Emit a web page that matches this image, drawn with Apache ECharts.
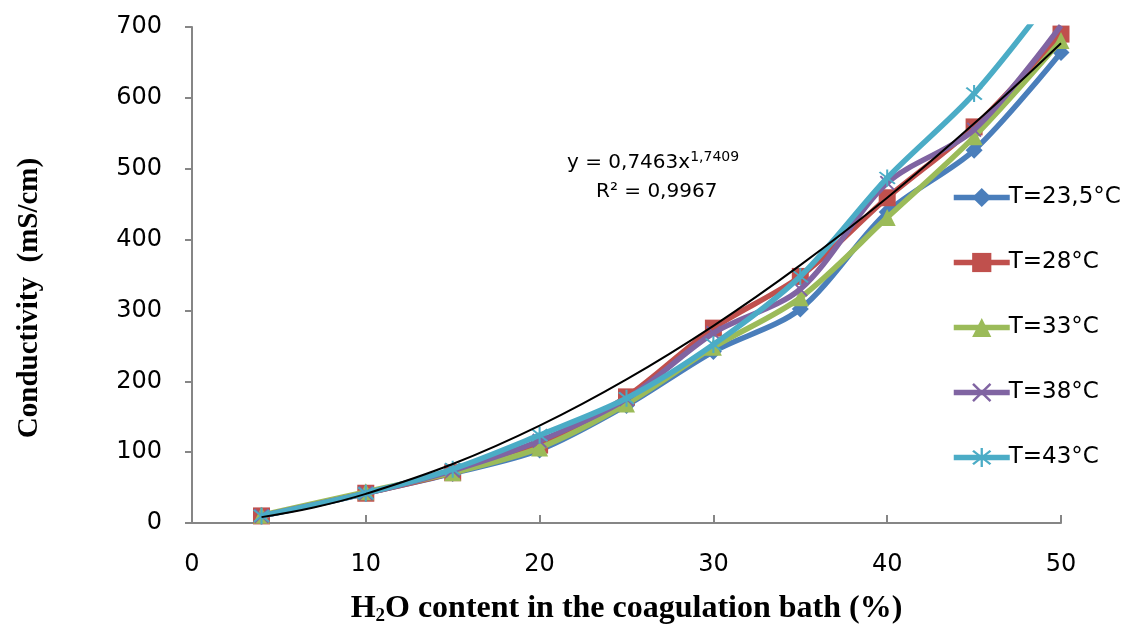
<!DOCTYPE html>
<html>
<head>
<meta charset="utf-8">
<script src="https://cdn.jsdelivr.net/npm/echarts@6/dist/echarts.min.js"></script>
<style>html,body{margin:0;padding:0;background:#fff}#c{width:1123px;height:628px}</style>
</head>
<body>
<div id="c"></div>
<script>
const xValues = [4, 10, 15, 20, 25, 30, 35, 40, 45, 50];
const seriesNames = ['T=23,5°C', 'T=28°C', 'T=33°C', 'T=38°C', 'T=43°C'];
const t235 = [10, 42, 70, 103, 166, 242, 302, 439, 526, 664];
const t28  = [10, 42, 71, 110, 178, 275, 348, 459, 559, 690];
const t33  = [11, 44, 71, 106, 168, 248, 318, 431, 545, 681];
const t38  = [10, 42, 74, 116, 175, 268, 330, 480, 555, 702];
const t43  = [10, 42, 76, 124, 176, 252, 348, 487, 606, 760];
const trendX = [4, 7, 10, 15, 20, 25, 30, 35, 40, 45, 50];
const trendY = [8.3, 21.9, 41.1, 83.2, 137.4, 202.7, 278.3, 363.9, 459.1, 563.7, 677.1];
const xTicks = [0, 10, 20, 30, 40, 50];
const yTicks = [0, 100, 200, 300, 400, 500, 600, 700];

const colors = ['#4A7EBB', '#C0504D', '#9BBB59', '#8064A2', '#4BACC6'];
const symbols = [
  'diamond',
  'rect',
  'triangle',
  'path://M0,0.9 L0.9,0 L5,4.1 L9.1,0 L10,0.9 L5.9,5 L10,9.1 L9.1,10 L5,5.9 L0.9,10 L0,9.1 L4.1,5 Z',
  'path://M0,0.9 L0.9,0 L5,4.1 L9.1,0 L10,0.9 L5.9,5 L10,9.1 L9.1,10 L5,5.9 L0.9,10 L0,9.1 L4.1,5 Z M4.4,-1.5 L5.6,-1.5 L5.6,11.5 L4.4,11.5 Z'
];
const symbolSizes = [17, 17, 17, 15, 17];
const allData = [t235, t28, t33, t38, t43];

const series = allData.map((vals, i) => ({
  name: seriesNames[i],
  type: 'line',
  data: xValues.map((x, k) => [x, vals[k]]),
  smooth: 0.3,
  symbol: symbols[i],
  symbolSize: symbolSizes[i],
  showAllSymbol: true,
  clip: true,
  lineStyle: { color: colors[i], width: 5.5 },
  itemStyle: { color: colors[i] },
  emphasis: { disabled: true },
  z: 2 + i
}));
series.push({
  name: 'trend',
  type: 'line',
  data: trendX.map((x, k) => [x, trendY[k]]),
  smooth: 0.4,
  symbol: 'none',
  lineStyle: { color: '#000', width: 2 },
  emphasis: { disabled: true },
  z: 10
});

const chart = echarts.init(document.getElementById('c'), null, { renderer: 'canvas' });
chart.setOption({
  animation: false,
  backgroundColor: '#fff',
  grid: { left: 192, right: 62, top: 27, bottom: 105, containLabel: false, outerBoundsMode: 'none' },
  xAxis: {
    type: 'value', min: 0, max: 50, interval: 10,
    name: '{b|H}{sub|2}{b|O content in the coagulation bath (%)}',
    nameLocation: 'middle', nameGap: 68,
    nameTextStyle: {
      rich: {
        b: { fontFamily: 'Liberation Serif', fontWeight: 'bold', fontSize: 32, color: '#000' },
        sub: { fontFamily: 'Liberation Serif', fontWeight: 'bold', fontSize: 19, color: '#000', padding: [16, 0, 0, 0] }
      }
    },
    splitLine: { show: false },
    axisLine: { lineStyle: { color: '#868686', width: 2 } },
    axisTick: { inside: true, length: 8, lineStyle: { color: '#868686', width: 2 } },
    axisLabel: { margin: 30, fontFamily: 'DejaVu Sans', fontSize: 24, color: '#000' }
  },
  yAxis: {
    type: 'value', min: 0, max: 700, interval: 100,
    name: 'Conductivity  (mS/cm)',
    nameLocation: 'middle', nameGap: 148,
    nameTextStyle: { fontFamily: 'Liberation Serif', fontWeight: 'bold', fontSize: 29, color: '#000', padding: [0, 46, 0, 0] },
    splitLine: { show: false },
    axisLine: { show: true, lineStyle: { color: '#868686', width: 2 } },
    axisTick: { show: true, length: 7, lineStyle: { color: '#868686', width: 2 } },
    axisLabel: { margin: 30, fontFamily: 'DejaVu Sans', fontSize: 24, color: '#000' }
  },
  legend: {
    data: seriesNames,
    orient: 'vertical',
    left: 946, top: 181,
    itemWidth: 56, itemHeight: 24, itemGap: 42,
    lineStyle: { width: 5.5 },
    textStyle: { fontFamily: 'DejaVu Sans', fontSize: 23, color: '#000', padding: [0, 0, 0, -6] }
  },
  graphic: [
    {
      type: 'text', left: 567, top: 150,
      style: {
        text: '{a|y = 0,7463x}{s|1,7409}',
        rich: {
          a: { fontFamily: 'DejaVu Sans', fontSize: 20, fill: '#000' },
          s: { fontFamily: 'DejaVu Sans', fontSize: 14, fill: '#000', padding: [0, 0, 12, 0] }
        }
      }
    },
    {
      type: 'text', left: 596, top: 182,
      style: { text: 'R² = 0,9967', fontFamily: 'DejaVu Sans', fontSize: 20, fill: '#000' }
    }
  ],
  series: series
});
</script>
</body>
</html>
